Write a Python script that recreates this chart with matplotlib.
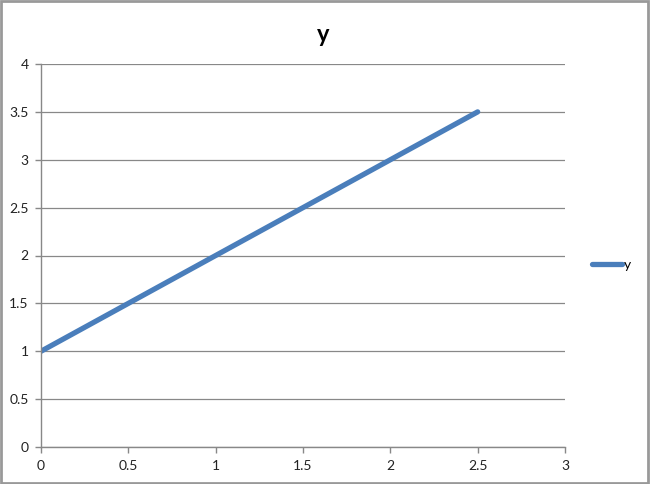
import matplotlib.pyplot as plt
from matplotlib.patches import Rectangle

x = [0, 2.5]
y = [1, 3.5]
xticks = [0, 0.5, 1, 1.5, 2, 2.5, 3]
yticks = [0, 0.5, 1, 1.5, 2, 2.5, 3, 3.5, 4]

plt.rcParams['font.family'] = ['Lato', 'DejaVu Sans']

fig = plt.figure(figsize=(6.5, 4.84), dpi=100)
ax = fig.add_axes([41 / 650, 37 / 484, 524 / 650, 383 / 484])

line, = ax.plot(x, y, color='#4a7ebb', lw=3.8, solid_capstyle='round', label='y')

ax.set_xlim(0, 3)
ax.set_ylim(0, 4)
ax.set_xticks(xticks)
ax.set_yticks(yticks)
ax.set_xticklabels([f'{v:g}' for v in xticks])
ax.set_yticklabels([f'{v:g}' for v in yticks])
ax.tick_params(axis='both', labelsize=10, color='#888888', length=4, width=1, pad=5, labelcolor='#222222')
ax.grid(axis='y', color='#888888', lw=0.9)
ax.set_axisbelow(True)
for s in ['top', 'right']:
    ax.spines[s].set_visible(False)
for s in ['left', 'bottom']:
    ax.spines[s].set_color('#888888')
    ax.spines[s].set_linewidth(1)

fig.text(323 / 650, 1 - 34 / 484, 'y', ha='center', va='center', fontsize=17, fontweight='bold')

ax.legend(handles=[line], loc='center left', bbox_to_anchor=(1.04, 0.475), frameon=False,
          handlelength=2.2, handletextpad=0.1, fontsize=10, borderaxespad=0)

fig.patches.append(Rectangle((0.002, 0.002), 0.995, 0.995, transform=fig.transFigure,
                             fill=False, edgecolor='#999999', lw=2))

fig.savefig('out.png', dpi=100)
